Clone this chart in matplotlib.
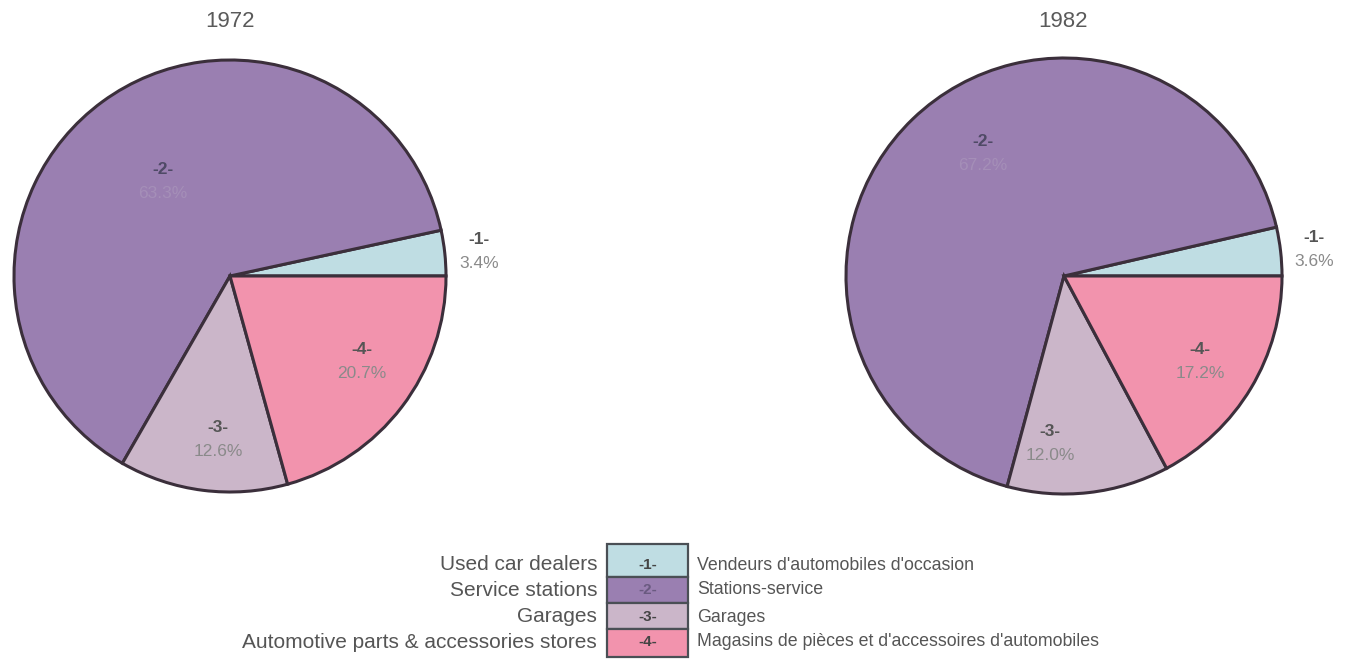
import numpy as np
import matplotlib
matplotlib.use("Agg")
import matplotlib.pyplot as plt
from matplotlib.patches import Rectangle

plt.rcParams['font.family'] = ['Liberation Sans', 'DejaVu Sans']

years = ["1972", "1982"]
codes = ["-1-", "-2-", "-3-", "-4-"]
values_1972 = [3.4, 63.3, 12.6, 20.7]
values_1982 = [3.6, 67.2, 12.0, 17.2]
pct_1972 = ["3.4%", "63.3%", "12.6%", "20.7%"]
pct_1982 = ["3.6%", "67.2%", "12.0%", "17.2%"]
labels_en = ["Used car dealers", "Service stations", "Garages",
             "Automotive parts & accessories stores"]
labels_fr = ["Vendeurs d'automobiles d'occasion", "Stations-service", "Garages",
             "Magasins de pièces et d'accessoires d'automobiles"]

colors = ["#bfdde3", "#9a7fb1", "#cbb6c9", "#f293ad"]
edge = "#3b2f3b"
W, H = 1349, 659

fig = plt.figure(figsize=(W / 100, H / 100), dpi=100)
ax = fig.add_axes([0, 0, 1, 1])

# label anchor (midpoint of the two text lines) as (dx, dy) relative to centre, in pixels
pies = [
    dict(vals=values_1972, pcts=pct_1972, center=(230, H - 276), r=216, title_x=230,
         anchors=[(249, 25), (-67, 95), (-12, -164), (132, -86)]),
    dict(vals=values_1982, pcts=pct_1982, center=(1064, H - 276), r=218, title_x=1063,
         anchors=[(250, 26), (-81, 123), (-14, -168), (136, -86)]),
]

for yr, p in zip(years, pies):
    wedges, _ = ax.pie(p['vals'], colors=colors, startangle=0, counterclock=True,
                       center=p['center'], radius=p['r'],
                       wedgeprops=dict(edgecolor=edge, linewidth=2.2))
    ax.text(p['title_x'], H - 21.5, yr, ha='center', va='center', fontsize=16, color='#5a5a5a')
    for i, w in enumerate(wedges):
        x = p['center'][0] + p['anchors'][i][0]
        y = p['center'][1] + p['anchors'][i][1]
        ccol = '#4f4a66' if i == 1 else '#555555'
        ax.text(x, y + 12, codes[i], ha='center', va='center', fontsize=12.5,
                fontweight='bold', color=ccol)
        pcol = '#a58fb8' if i == 1 else '#8a8a8a'
        ax.text(x, y - 12, p['pcts'][i], ha='center', va='center', fontsize=12.5,
                color=pcol)

# legend
bx, bw = 607, 81
row_edges = [544, 577, 603, 629, 657]
text_y = [565, 590, 617, 642]
for i in range(4):
    top, bot = row_edges[i], row_edges[i + 1]
    ax.add_patch(Rectangle((bx, H - bot), bw, bot - top, facecolor=colors[i],
                           edgecolor='#4a4f55', linewidth=1.6, clip_on=False))
    yc = H - text_y[i]
    ccol = '#6a5a80' if i == 1 else '#444444'
    ax.text(bx + bw / 2, yc, codes[i], ha='center', va='center', fontsize=11,
            fontweight='bold', color=ccol)
    ax.text(bx - 10, yc, labels_en[i], ha='right', va='center', fontsize=15,
            color='#555555')
    ax.text(bx + bw + 9, yc, labels_fr[i], ha='left', va='center', fontsize=12.8,
            color='#555555')

ax.set_xlim(0, W)
ax.set_ylim(0, H)
ax.set_aspect('auto')
ax.axis('off')

fig.savefig("out.png", dpi=100)
